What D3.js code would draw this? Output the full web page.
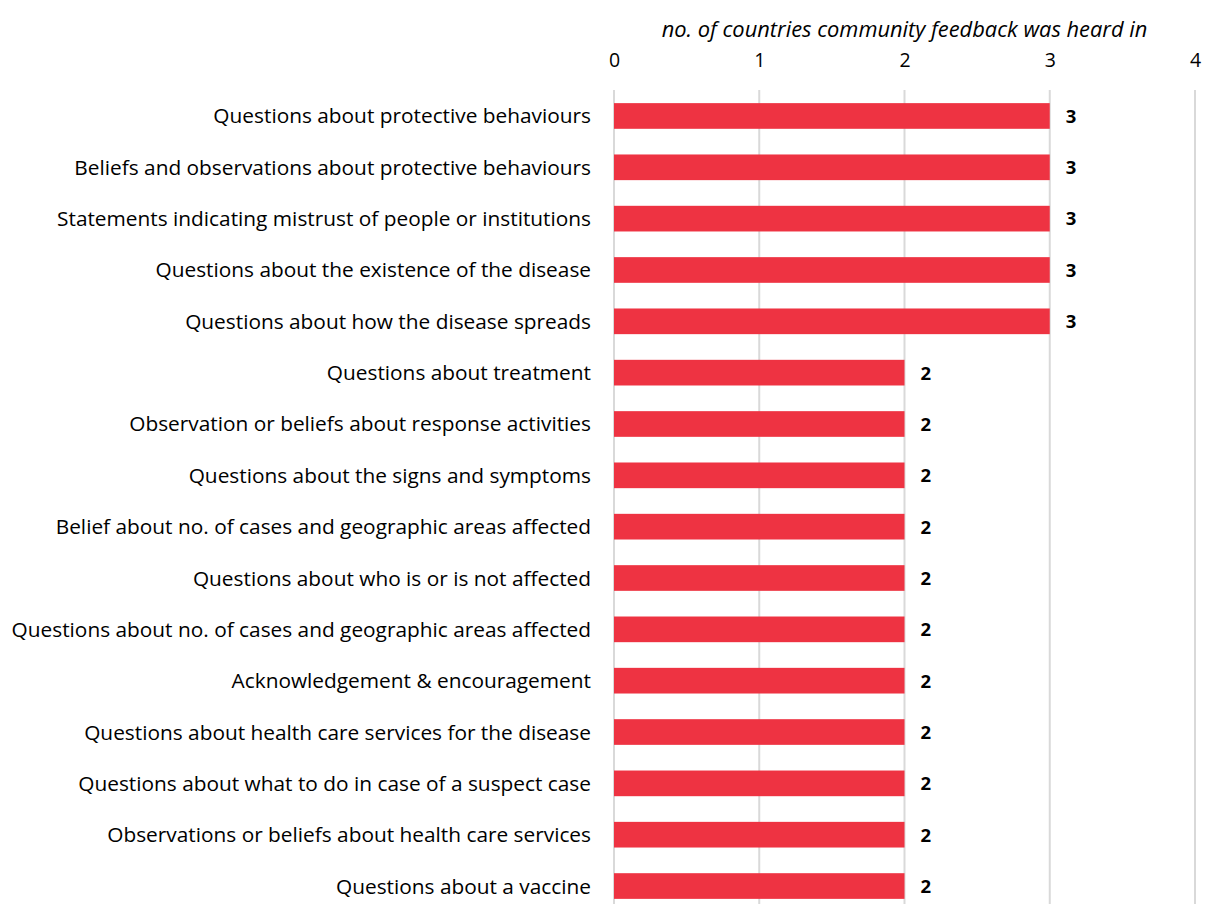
<!DOCTYPE html>
<html><head><meta charset="utf-8">
<script src="https://cdn.jsdelivr.net/npm/d3@7"></script>
<style>body{margin:0;background:#fff}svg{display:block}text{font-family:"Open Sans","Noto Sans",sans-serif}</style>
</head><body><svg id="c" width="1208" height="904"></svg>
<script>
const categories = [
"Questions about protective behaviours",
"Beliefs and observations about protective behaviours",
"Statements indicating mistrust of people or institutions",
"Questions about the existence of the disease",
"Questions about how the disease spreads",
"Questions about treatment",
"Observation or beliefs about response activities",
"Questions about the signs and symptoms",
"Belief about no. of cases and geographic areas affected",
"Questions about who is or is not affected",
"Questions about no. of cases and geographic areas affected",
"Acknowledgement & encouragement",
"Questions about health care services for the disease",
"Questions about what to do in case of a suspect case",
"Observations or beliefs about health care services",
"Questions about a vaccine"];
const values = [3,3,3,3,3,2,2,2,2,2,2,2,2,2,2,2];
const ticks = [0,1,2,3,4];
const axisTitle = "no. of countries community feedback was heard in";

const svg = d3.select("#c");
const x = d3.scaleLinear().domain([0,4]).range([614,1195]);
const y = d3.scaleBand().domain(categories).range([90.3,911.7]).paddingInner(0.5).paddingOuter(0.25);

svg.append("g").selectAll("line").data(ticks).join("line")
  .attr("x1",d=>x(d)).attr("x2",d=>x(d)).attr("y1",90).attr("y2",912)
  .attr("stroke","#d9d9d9").attr("stroke-width",2);

const ax = svg.append("g").attr("transform","translate(0,67)").call(d3.axisTop(x).tickValues(ticks).tickSize(0).tickPadding(0).tickFormat(d3.format("d")));
ax.select(".domain").remove();
ax.selectAll("text").attr("font-size",19.5).attr("fill","#000").style("font-family","'Open Sans',sans-serif");

const title = svg.append("text").attr("x",x(2)).attr("y",37).attr("text-anchor","middle")
  .attr("font-size",18).attr("font-style","italic").attr("fill","#000").text(axisTitle);
const tw = title.node().getComputedTextLength();
title.attr("font-size",18*486/tw);

svg.append("g").selectAll("rect").data(values).join("rect")
  .attr("x",x(0)).attr("y",(d,i)=>y(categories[i])).attr("width",d=>x(d)-x(0)).attr("height",y.bandwidth())
  .attr("fill","#EE3342");

svg.append("g").selectAll("text").data(values).join("text")
  .attr("x",d=>x(d)+16).attr("y",(d,i)=>y(categories[i])+y.bandwidth()/2).attr("dy","0.37em")
  .attr("font-size",18.5).attr("font-weight","bold").attr("fill","#000").text(d=>d);

const labels = svg.append("g").selectAll("text").data(categories).join("text")
  .attr("x",591).attr("y",d=>y(d)+y.bandwidth()/2).attr("dy","0.36em").attr("text-anchor","end")
  .attr("font-size",18).attr("fill","#000").text(d=>d);
const lw = d3.max(labels.nodes(), n=>n.getComputedTextLength());
labels.attr("font-size",18*580/lw);
</script></body></html>
